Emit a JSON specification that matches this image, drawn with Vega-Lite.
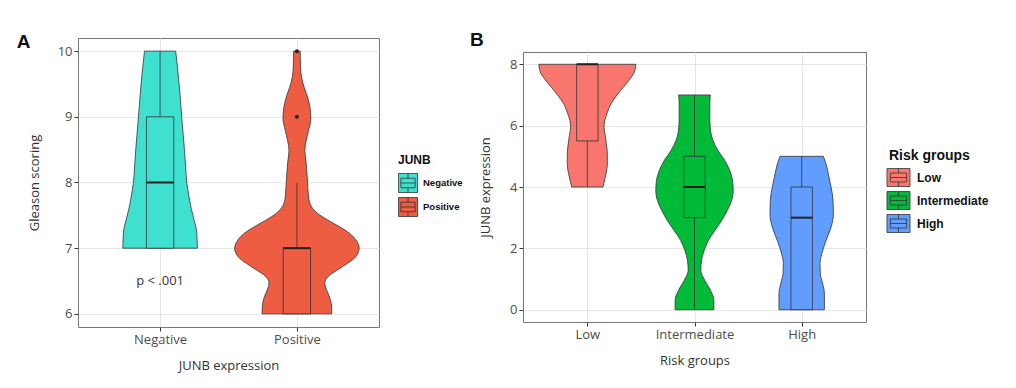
{
  "$schema": "https://vega.github.io/schema/vega-lite/v6.json",
  "background": "white",
  "padding": {"left": 16, "top": 30, "right": 5, "bottom": 5},
  "spacing": 5,
  "config": {
    "font": "Open Sans",
    "view": {"stroke": "#777777", "strokeWidth": 1},
    "axis": {"labelFont": "Open Sans", "labelFontSize": 13, "labelColor": "#4d4d4d", "titleFont": "Open Sans", "titleFontSize": 13, "titleFontWeight": "normal", "titleColor": "#333333", "tickColor": "#333333", "tickSize": 4, "domain": false, "gridColor": "#e6e6e6", "labelOverlap": false},
    "legend": {"titleFont": "Liberation Sans", "labelFont": "Liberation Sans", "titleFontWeight": "bold", "labelFontWeight": "bold", "titleColor": "#111111", "labelColor": "#111111", "rowPadding": 0, "padding": 0, "symbolStrokeColor": "#333333", "symbolStrokeWidth": 0.8, "symbolOpacity": 1},
    "title": {"font": "Liberation Sans", "fontWeight": "bold", "color": "#111111"}
  },
  "resolve": {"scale": {"color": "independent"}, "legend": {"color": "independent"}},
  "datasets": {
    "violinA": [
      {"group": "Negative", "y": 7.0, "w": 0.272},
      {"group": "Negative", "y": 7.05, "w": 0.272},
      {"group": "Negative", "y": 7.15, "w": 0.27},
      {"group": "Negative", "y": 7.28, "w": 0.266},
      {"group": "Negative", "y": 7.43, "w": 0.248},
      {"group": "Negative", "y": 7.6, "w": 0.228},
      {"group": "Negative", "y": 7.8, "w": 0.21},
      {"group": "Negative", "y": 8.0, "w": 0.195},
      {"group": "Negative", "y": 8.25, "w": 0.186},
      {"group": "Negative", "y": 8.5, "w": 0.178},
      {"group": "Negative", "y": 8.75, "w": 0.168},
      {"group": "Negative", "y": 9.0, "w": 0.158},
      {"group": "Negative", "y": 9.25, "w": 0.149},
      {"group": "Negative", "y": 9.5, "w": 0.139},
      {"group": "Negative", "y": 9.75, "w": 0.127},
      {"group": "Negative", "y": 10.0, "w": 0.114},
      {"group": "Positive", "y": 6.0, "w": 0.255},
      {"group": "Positive", "y": 6.12, "w": 0.253},
      {"group": "Positive", "y": 6.27, "w": 0.236},
      {"group": "Positive", "y": 6.39, "w": 0.212},
      {"group": "Positive", "y": 6.47, "w": 0.204},
      {"group": "Positive", "y": 6.57, "w": 0.228},
      {"group": "Positive", "y": 6.67, "w": 0.297},
      {"group": "Positive", "y": 6.77, "w": 0.37},
      {"group": "Positive", "y": 6.87, "w": 0.43},
      {"group": "Positive", "y": 7.0, "w": 0.455},
      {"group": "Positive", "y": 7.13, "w": 0.43},
      {"group": "Positive", "y": 7.23, "w": 0.382},
      {"group": "Positive", "y": 7.33, "w": 0.309},
      {"group": "Positive", "y": 7.43, "w": 0.224},
      {"group": "Positive", "y": 7.53, "w": 0.151},
      {"group": "Positive", "y": 7.63, "w": 0.107},
      {"group": "Positive", "y": 7.78, "w": 0.085},
      {"group": "Positive", "y": 8.0, "w": 0.078},
      {"group": "Positive", "y": 8.29, "w": 0.068},
      {"group": "Positive", "y": 8.49, "w": 0.058},
      {"group": "Positive", "y": 8.64, "w": 0.068},
      {"group": "Positive", "y": 8.79, "w": 0.085},
      {"group": "Positive", "y": 8.98, "w": 0.102},
      {"group": "Positive", "y": 9.15, "w": 0.095},
      {"group": "Positive", "y": 9.3, "w": 0.078},
      {"group": "Positive", "y": 9.45, "w": 0.053},
      {"group": "Positive", "y": 9.6, "w": 0.034},
      {"group": "Positive", "y": 9.75, "w": 0.027},
      {"group": "Positive", "y": 10.0, "w": 0.024}
    ],
    "boxA": [
      {"group": "Negative", "min": 7, "q1": 7, "med": 8, "q3": 9, "max": 10},
      {"group": "Positive", "min": 6, "q1": 6, "med": 7, "q3": 7, "max": 8}
    ],
    "outA": [
      {"group": "Positive", "y": 9},
      {"group": "Positive", "y": 10}
    ],
    "noteA": [
      {"group": "Negative", "y": 6.5, "label": "p < .001"}
    ],
    "violinB": [
      {"group": "Low", "y": 4.0, "w": 0.146},
      {"group": "Low", "y": 4.15, "w": 0.156},
      {"group": "Low", "y": 4.42, "w": 0.174},
      {"group": "Low", "y": 4.75, "w": 0.187},
      {"group": "Low", "y": 5.07, "w": 0.187},
      {"group": "Low", "y": 5.4, "w": 0.178},
      {"group": "Low", "y": 5.67, "w": 0.168},
      {"group": "Low", "y": 5.94, "w": 0.156},
      {"group": "Low", "y": 6.16, "w": 0.162},
      {"group": "Low", "y": 6.43, "w": 0.187},
      {"group": "Low", "y": 6.7, "w": 0.218},
      {"group": "Low", "y": 6.97, "w": 0.271},
      {"group": "Low", "y": 7.24, "w": 0.333},
      {"group": "Low", "y": 7.51, "w": 0.396},
      {"group": "Low", "y": 7.78, "w": 0.442},
      {"group": "Low", "y": 8.0, "w": 0.452},
      {"group": "Intermediate", "y": 0.0, "w": 0.181},
      {"group": "Intermediate", "y": 0.3, "w": 0.181},
      {"group": "Intermediate", "y": 0.63, "w": 0.15},
      {"group": "Intermediate", "y": 0.95, "w": 0.097},
      {"group": "Intermediate", "y": 1.28, "w": 0.059},
      {"group": "Intermediate", "y": 1.6, "w": 0.065},
      {"group": "Intermediate", "y": 1.93, "w": 0.09},
      {"group": "Intermediate", "y": 2.25, "w": 0.128},
      {"group": "Intermediate", "y": 2.58, "w": 0.19},
      {"group": "Intermediate", "y": 2.9, "w": 0.252},
      {"group": "Intermediate", "y": 3.23, "w": 0.305},
      {"group": "Intermediate", "y": 3.56, "w": 0.346},
      {"group": "Intermediate", "y": 3.88, "w": 0.361},
      {"group": "Intermediate", "y": 4.21, "w": 0.355},
      {"group": "Intermediate", "y": 4.53, "w": 0.33},
      {"group": "Intermediate", "y": 4.86, "w": 0.283},
      {"group": "Intermediate", "y": 5.18, "w": 0.221},
      {"group": "Intermediate", "y": 5.5, "w": 0.174},
      {"group": "Intermediate", "y": 5.83, "w": 0.15},
      {"group": "Intermediate", "y": 6.27, "w": 0.143},
      {"group": "Intermediate", "y": 6.7, "w": 0.143},
      {"group": "Intermediate", "y": 7.0, "w": 0.148},
      {"group": "High", "y": 0.0, "w": 0.212},
      {"group": "High", "y": 0.52, "w": 0.212},
      {"group": "High", "y": 0.85, "w": 0.196},
      {"group": "High", "y": 1.17, "w": 0.174},
      {"group": "High", "y": 1.5, "w": 0.171},
      {"group": "High", "y": 1.82, "w": 0.187},
      {"group": "High", "y": 2.25, "w": 0.227},
      {"group": "High", "y": 2.69, "w": 0.274},
      {"group": "High", "y": 3.12, "w": 0.296},
      {"group": "High", "y": 3.56, "w": 0.293},
      {"group": "High", "y": 4.0, "w": 0.274},
      {"group": "High", "y": 4.42, "w": 0.249},
      {"group": "High", "y": 4.75, "w": 0.227},
      {"group": "High", "y": 5.0, "w": 0.202}
    ],
    "boxB": [
      {"group": "Low", "min": 4, "q1": 5.5, "med": 8, "q3": 8, "max": 8},
      {"group": "Intermediate", "min": 0, "q1": 3, "med": 4, "q3": 5, "max": 7},
      {"group": "High", "min": 0, "q1": 0, "med": 3, "q3": 4, "max": 5}
    ]
  },
  "hconcat": [
    {
      "width": 301,
      "height": 289,
      "title": {"text": "A", "orient": "left", "anchor": "end", "angle": 0, "align": "right", "baseline": "top", "fontSize": 19, "offset": -16, "dy": -5},
      "layer": [
        {
          "data": {"name": "violinA"},
          "transform": [
            {"calculate": "indexof(['Negative','Positive'], datum.group) + 1 - datum.w", "as": "lo"},
            {"calculate": "indexof(['Negative','Positive'], datum.group) + 1 + datum.w", "as": "hi"}
          ],
          "mark": {"type": "area", "orient": "horizontal", "interpolate": "monotone", "stroke": "#333333", "strokeWidth": 0.8, "opacity": 1},
          "encoding": {
            "y": {"field": "y", "type": "quantitative", "scale": {"domain": [5.8, 10.2], "nice": false, "zero": false},
              "axis": {"title": "Gleason scoring", "values": [6, 6.5, 7, 7.5, 8, 8.5, 9, 9.5, 10], "format": "d", "labelExpr": "datum.value % 1 != 0 ? '' : datum.label", "gridColor": {"condition": {"test": "datum.value % 1 != 0", "value": "#f3f3f3"}, "value": "#e6e6e6"}, "gridWidth": {"condition": {"test": "datum.value % 1 != 0", "value": 0.6}, "value": 1}, "tickOpacity": {"condition": {"test": "datum.value % 1 != 0", "value": 0}, "value": 1}, "labelPadding": 2, "titlePadding": 16}},
            "x": {"field": "lo", "type": "quantitative", "scale": {"domain": [0.4, 2.6], "nice": false, "zero": false},
              "axis": {"title": "JUNB expression", "values": [1, 2], "labelExpr": "datum.value == 1 ? 'Negative' : 'Positive'", "labelPadding": 2, "titlePadding": 13}},
            "x2": {"field": "hi"},
            "color": {"field": "group", "type": "nominal", "scale": {"domain": ["Negative", "Positive"], "range": ["#40E0D0", "#EE5C42"]},
              "legend": {"title": "JUNB", "orient": "none", "legendX": 320, "legendY": 117, "titleFontSize": 12, "labelFontSize": 9.5, "symbolSize": 361, "symbolType": "M-1,-1H1V1H-1Z M-0.75,-0.5H0.75V0.5H-0.75Z M-0.75,0H0.75 M0,-1V-0.5 M0,0.5V1", "labelOffset": 5, "titlePadding": 6}}
          }
        },
        {
          "data": {"name": "boxA"},
          "transform": [
            {"calculate": "indexof(['Negative','Positive'], datum.group) + 1", "as": "idx"}
          ],
          "mark": {"type": "rule", "stroke": "#333333", "strokeWidth": 0.8},
          "encoding": {
            "x": {"field": "idx", "type": "quantitative", "scale": {"domain": [0.4, 2.6], "nice": false, "zero": false}},
            "y": {"field": "min", "type": "quantitative", "scale": {"domain": [5.8, 10.2], "nice": false, "zero": false}},
            "y2": {"field": "max"}
          }
        },
        {
          "data": {"name": "boxA"},
          "transform": [
            {"calculate": "indexof(['Negative','Positive'], datum.group) + 1 - 0.1", "as": "bl"},
            {"calculate": "indexof(['Negative','Positive'], datum.group) + 1 + 0.1", "as": "br"}
          ],
          "mark": {"type": "rect", "stroke": "#333333", "strokeWidth": 0.8, "opacity": 1},
          "encoding": {
            "x": {"field": "bl", "type": "quantitative", "scale": {"domain": [0.4, 2.6], "nice": false, "zero": false}},
            "x2": {"field": "br"},
            "y": {"field": "q1", "type": "quantitative", "scale": {"domain": [5.8, 10.2], "nice": false, "zero": false}},
            "y2": {"field": "q3"},
            "color": {"field": "group", "type": "nominal", "scale": {"domain": ["Negative", "Positive"], "range": ["#40E0D0", "#EE5C42"]},
              "legend": {"title": "JUNB", "orient": "none", "legendX": 320, "legendY": 117, "titleFontSize": 12, "labelFontSize": 9.5, "symbolSize": 361, "symbolType": "M-1,-1H1V1H-1Z M-0.75,-0.5H0.75V0.5H-0.75Z M-0.75,0H0.75 M0,-1V-0.5 M0,0.5V1", "labelOffset": 5, "titlePadding": 6}}
          }
        },
        {
          "data": {"name": "boxA"},
          "transform": [
            {"calculate": "indexof(['Negative','Positive'], datum.group) + 1 - 0.1", "as": "bl"},
            {"calculate": "indexof(['Negative','Positive'], datum.group) + 1 + 0.1", "as": "br"}
          ],
          "mark": {"type": "rule", "stroke": "#222222", "strokeWidth": 2},
          "encoding": {
            "x": {"field": "bl", "type": "quantitative", "scale": {"domain": [0.4, 2.6], "nice": false, "zero": false}},
            "x2": {"field": "br"},
            "y": {"field": "med", "type": "quantitative", "scale": {"domain": [5.8, 10.2], "nice": false, "zero": false}}
          }
        },
        {
          "data": {"name": "outA"},
          "transform": [
            {"calculate": "indexof(['Negative','Positive'], datum.group) + 1", "as": "idx"}
          ],
          "mark": {"type": "circle", "color": "#222222", "size": 16, "opacity": 1},
          "encoding": {
            "x": {"field": "idx", "type": "quantitative", "scale": {"domain": [0.4, 2.6], "nice": false, "zero": false}},
            "y": {"field": "y", "type": "quantitative", "scale": {"domain": [5.8, 10.2], "nice": false, "zero": false}}
          }
        },
        {
          "data": {"name": "noteA"},
          "transform": [
            {"calculate": "indexof(['Negative','Positive'], datum.group) + 1", "as": "idx"}
          ],
          "mark": {"type": "text", "font": "Open Sans", "fontSize": 13, "color": "#333333", "align": "center", "baseline": "middle"},
          "encoding": {
            "x": {"field": "idx", "type": "quantitative", "scale": {"domain": [0.4, 2.6], "nice": false, "zero": false}},
            "y": {"field": "y", "type": "quantitative", "scale": {"domain": [5.8, 10.2], "nice": false, "zero": false}},
            "text": {"field": "label"}
          }
        }
      ]
    },
    {
      "bounds": "flush",
      "spacing": 0,
      "resolve": {"scale": {"color": "independent"}, "legend": {"color": "independent"}},
      "vconcat": [
        {
          "width": 1,
          "height": 14,
          "view": {"stroke": null},
          "data": {"values": []},
          "mark": {"type": "point"},
          "encoding": {}
        },
        {
          "width": 343,
          "height": 270,
          "title": {"text": "B", "orient": "left", "anchor": "end", "angle": 0, "align": "right", "baseline": "top", "fontSize": 19, "offset": -18, "dy": -21},
          "layer": [
            {
              "data": {"name": "violinB"},
              "transform": [
                {"calculate": "indexof(['Low','Intermediate','High'], datum.group) + 1 - datum.w", "as": "lo"},
                {"calculate": "indexof(['Low','Intermediate','High'], datum.group) + 1 + datum.w", "as": "hi"}
              ],
              "mark": {"type": "area", "orient": "horizontal", "interpolate": "monotone", "stroke": "#333333", "strokeWidth": 0.8, "opacity": 1},
              "encoding": {
                "y": {"field": "y", "type": "quantitative", "scale": {"domain": [-0.4, 8.4], "nice": false, "zero": false},
                  "axis": {"title": "JUNB expression", "values": [0, 1, 2, 3, 4, 5, 6, 7, 8], "labelExpr": "datum.value % 2 != 0 ? '' : datum.label", "gridColor": {"condition": {"test": "datum.value % 2 != 0", "value": "#f3f3f3"}, "value": "#e6e6e6"}, "gridWidth": {"condition": {"test": "datum.value % 2 != 0", "value": 0.6}, "value": 1}, "tickOpacity": {"condition": {"test": "datum.value % 2 != 0", "value": 0}, "value": 1}, "labelPadding": 2, "titlePadding": 17}},
                "x": {"field": "lo", "type": "quantitative", "scale": {"domain": [0.4, 3.6], "nice": false, "zero": false},
                  "axis": {"title": "Risk groups", "values": [1, 2, 3], "labelExpr": "['Low','Intermediate','High'][datum.value - 1]", "labelPadding": 2, "titlePadding": 13}},
                "x2": {"field": "hi"},
                "color": {"field": "group", "type": "nominal", "scale": {"domain": ["Low", "Intermediate", "High"], "range": ["#F8766D", "#00BA38", "#619CFF"]},
                  "legend": {"title": "Risk groups", "orient": "none", "legendX": 366, "legendY": 97, "titleFontSize": 14, "labelFontSize": 12, "symbolSize": 324, "symbolType": "M-1.28,-1H1.28V1H-1.28Z M-0.9,-0.5H0.9V0.5H-0.9Z M-0.9,0H0.9 M0,-1V-0.5 M0,0.5V1", "labelOffset": 9, "titlePadding": 5}}
              }
            },
            {
              "data": {"name": "boxB"},
              "transform": [
                {"calculate": "indexof(['Low','Intermediate','High'], datum.group) + 1", "as": "idx"}
              ],
              "mark": {"type": "rule", "stroke": "#333333", "strokeWidth": 0.8},
              "encoding": {
                "x": {"field": "idx", "type": "quantitative", "scale": {"domain": [0.4, 3.6], "nice": false, "zero": false}},
                "y": {"field": "min", "type": "quantitative", "scale": {"domain": [-0.4, 8.4], "nice": false, "zero": false}},
                "y2": {"field": "max"}
              }
            },
            {
              "data": {"name": "boxB"},
              "transform": [
                {"calculate": "indexof(['Low','Intermediate','High'], datum.group) + 1 - 0.1", "as": "bl"},
                {"calculate": "indexof(['Low','Intermediate','High'], datum.group) + 1 + 0.1", "as": "br"}
              ],
              "mark": {"type": "rect", "stroke": "#333333", "strokeWidth": 0.8, "opacity": 1},
              "encoding": {
                "x": {"field": "bl", "type": "quantitative", "scale": {"domain": [0.4, 3.6], "nice": false, "zero": false}},
                "x2": {"field": "br"},
                "y": {"field": "q1", "type": "quantitative", "scale": {"domain": [-0.4, 8.4], "nice": false, "zero": false}},
                "y2": {"field": "q3"},
                "color": {"field": "group", "type": "nominal", "scale": {"domain": ["Low", "Intermediate", "High"], "range": ["#F8766D", "#00BA38", "#619CFF"]},
                  "legend": {"title": "Risk groups", "orient": "none", "legendX": 366, "legendY": 97, "titleFontSize": 14, "labelFontSize": 12, "symbolSize": 324, "symbolType": "M-1.28,-1H1.28V1H-1.28Z M-0.9,-0.5H0.9V0.5H-0.9Z M-0.9,0H0.9 M0,-1V-0.5 M0,0.5V1", "labelOffset": 9, "titlePadding": 5}}
              }
            },
            {
              "data": {"name": "boxB"},
              "transform": [
                {"calculate": "indexof(['Low','Intermediate','High'], datum.group) + 1 - 0.1", "as": "bl"},
                {"calculate": "indexof(['Low','Intermediate','High'], datum.group) + 1 + 0.1", "as": "br"}
              ],
              "mark": {"type": "rule", "stroke": "#222222", "strokeWidth": 2},
              "encoding": {
                "x": {"field": "bl", "type": "quantitative", "scale": {"domain": [0.4, 3.6], "nice": false, "zero": false}},
                "x2": {"field": "br"},
                "y": {"field": "med", "type": "quantitative", "scale": {"domain": [-0.4, 8.4], "nice": false, "zero": false}}
              }
            }
          ]
        }
      ]
    }
  ]
}
